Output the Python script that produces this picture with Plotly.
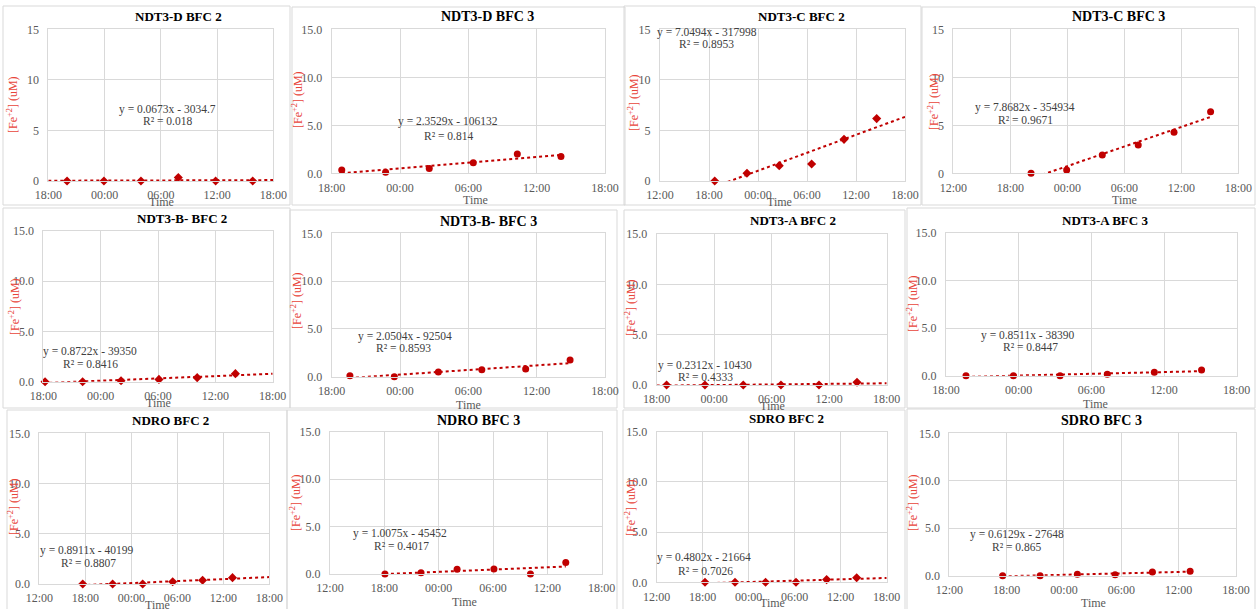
import numpy as np
import pandas as pd
import plotly.graph_objects as go

W, H = 1257, 609

# ---------------- data ----------------
titles = ["NDT3-D BFC 2", "NDT3-D BFC 3", "NDT3-C BFC 2", "NDT3-C BFC 3",
          "NDT3-B- BFC 2", "NDT3-B- BFC 3", "NDT3-A BFC 2", "NDT3-A BFC 3",
          "NDRO BFC 2", "NDRO BFC 3", "SDRO BFC 2", "SDRO BFC 3"]

eq_labels = ["y = 0.0673x - 3034.7", "y = 2.3529x - 106132", "y = 7.0494x - 317998", "y = 7.8682x - 354934",
             "y = 0.8722x - 39350", "y = 2.0504x - 92504", "y = 0.2312x - 10430", "y = 0.8511x - 38390",
             "y = 0.8911x - 40199", "y = 1.0075x - 45452", "y = 0.4802x - 21664", "y = 0.6129x - 27648"]

r2_labels = ["R² = 0.018", "R² = 0.814", "R² = 0.8953", "R² = 0.9671",
             "R² = 0.8416", "R² = 0.8593", "R² = 0.4333", "R² = 0.8447",
             "R² = 0.8807", "R² = 0.4017", "R² = 0.7026", "R² = 0.865"]

ndt3d_bfc2_time = ["2023-07-03 20:00", "2023-07-03 23:56", "2023-07-04 03:53", "2023-07-04 07:52", "2023-07-04 11:51", "2023-07-04 15:48"]
ndt3d_bfc2_fe = [0.0, 0.0, 0.0, 0.35, 0.0, 0.0]

ndt3d_bfc3_time = ["2023-07-03 18:53", "2023-07-03 22:44", "2023-07-04 02:34", "2023-07-04 06:26", "2023-07-04 10:18", "2023-07-04 14:08"]
ndt3d_bfc3_fe = [0.35, 0.1, 0.49, 1.1, 2.0, 1.74]

ndt3c_bfc2_time = ["2023-07-03 18:42", "2023-07-03 22:39", "2023-07-04 02:36", "2023-07-04 06:34", "2023-07-04 10:32", "2023-07-04 14:32"]
ndt3c_bfc2_fe = [0.0, 0.76, 1.52, 1.68, 4.12, 6.17]

ndt3c_bfc3_time = ["2023-07-03 20:11", "2023-07-03 23:56", "2023-07-04 03:41", "2023-07-04 07:28", "2023-07-04 11:14", "2023-07-04 15:05"]
ndt3c_bfc3_fe = [0.0, 0.35, 1.91, 2.95, 4.27, 6.42]

ndt3b_bfc2_time = ["2023-07-03 18:11", "2023-07-03 22:07", "2023-07-04 02:08", "2023-07-04 06:06", "2023-07-04 10:06", "2023-07-04 14:06"]
ndt3b_bfc2_fe = [0.0, 0.0, 0.1, 0.23, 0.4, 0.8]

ndt3b_bfc3_time = ["2023-07-03 19:36", "2023-07-03 23:30", "2023-07-04 03:22", "2023-07-04 07:11", "2023-07-04 11:02", "2023-07-04 14:56"]
ndt3b_bfc3_fe = [0.1, 0.0, 0.49, 0.73, 0.8, 1.74]

ndt3a_bfc2_time = ["2023-07-03 19:02", "2023-07-03 23:02", "2023-07-04 03:02", "2023-07-04 06:58", "2023-07-04 10:56", "2023-07-04 14:54"]
ndt3a_bfc2_fe = [0.0, 0.0, 0.0, 0.0, 0.0, 0.27]

ndt3a_bfc3_time = ["2023-07-03 19:39", "2023-07-03 23:34", "2023-07-04 03:25", "2023-07-04 07:19", "2023-07-04 11:12", "2023-07-04 15:06"]
ndt3a_bfc3_fe = [0.0, 0.0, 0.0, 0.14, 0.35, 0.59]

ndro_bfc2_time = ["2023-07-03 17:40", "2023-07-03 21:34", "2023-07-04 01:29", "2023-07-04 05:24", "2023-07-04 09:18", "2023-07-04 13:12"]
ndro_bfc2_fe = [0.0, 0.0, 0.0, 0.22, 0.38, 0.63]

ndro_bfc3_time = ["2023-07-03 18:04", "2023-07-03 22:03", "2023-07-04 02:02", "2023-07-04 06:06", "2023-07-04 10:08", "2023-07-04 14:02"]
ndro_bfc3_fe = [0.0, 0.14, 0.49, 0.53, 0.0, 1.2]

sdro_bfc2_time = ["2023-07-03 18:18", "2023-07-03 22:13", "2023-07-04 02:12", "2023-07-04 06:10", "2023-07-04 10:10", "2023-07-04 14:05"]
sdro_bfc2_fe = [0.0, 0.0, 0.0, 0.0, 0.27, 0.46]

sdro_bfc3_time = ["2023-07-03 17:35", "2023-07-03 21:30", "2023-07-04 01:24", "2023-07-04 05:21", "2023-07-04 09:15", "2023-07-04 13:12"]
sdro_bfc3_fe = [0.0, 0.0, 0.14, 0.1, 0.39, 0.46]

series_times = [ndt3d_bfc2_time, ndt3d_bfc3_time, ndt3c_bfc2_time, ndt3c_bfc3_time,
                ndt3b_bfc2_time, ndt3b_bfc3_time, ndt3a_bfc2_time, ndt3a_bfc3_time,
                ndro_bfc2_time, ndro_bfc3_time, sdro_bfc2_time, sdro_bfc3_time]
series_fe = [ndt3d_bfc2_fe, ndt3d_bfc3_fe, ndt3c_bfc2_fe, ndt3c_bfc3_fe,
             ndt3b_bfc2_fe, ndt3b_bfc3_fe, ndt3a_bfc2_fe, ndt3a_bfc3_fe,
             ndro_bfc2_fe, ndro_bfc3_fe, sdro_bfc2_fe, sdro_bfc3_fe]

x_ticks_start = ["18:00", "18:00", "12:00", "12:00",
                 "18:00", "18:00", "18:00", "18:00",
                 "12:00", "12:00", "12:00", "12:00"]
y_tick_formats = [".0f", ".1f", ".0f", ".0f", ".1f", ".1f", ".1f", ".1f", ".1f", ".1f", ".1f", ".1f"]

DAY0, DAY1 = "2023-07-03", "2023-07-04"

# ---------------- layout geometry (pixels) ----------------
geo = [
    dict(plot=(48.3, 273.3, 29.3, 181), box=(3, 290, 6, 205), title=(179, 17, 13), eq=(167, 109), r2=(167, 121), yt=(12, 105), xt=(161, 202)),
    dict(plot=(331.7, 605, 29.3, 173.3), box=(292, 625, 7, 205), title=(487, 17, 14), eq=(448, 122), r2=(448, 136), yt=(297, 100), xt=(475, 200)),
    dict(plot=(660, 905, 29.3, 181), box=(624, 921, 6, 205), title=(801.7, 17, 13), eq=(706.7, 32), r2=(706, 44), yt=(633, 103), xt=(779, 202)),
    dict(plot=(953.3, 1238.3, 29.3, 173.3), box=(922, 1255, 7, 205), title=(1118, 17, 14), eq=(1025, 107), r2=(1025, 120), yt=(933, 102), xt=(1124, 200)),
    dict(plot=(43.3, 272.7, 230.7, 381.7), box=(3, 290, 208, 408), title=(181.7, 218.3, 13), eq=(90, 351.7), r2=(90, 364), yt=(14, 307), xt=(158, 403)),
    dict(plot=(331.7, 605, 233.3, 376.7), box=(290, 617, 210, 408), title=(488.3, 221.7, 14), eq=(405, 336), r2=(403, 348.3), yt=(297, 301), xt=(468, 405)),
    dict(plot=(656.7, 886.7, 234, 385), box=(624, 905, 210, 408), title=(793.3, 220.7, 13), eq=(705, 365), r2=(705, 377.3), yt=(630, 308), xt=(772, 406)),
    dict(plot=(946, 1236.7, 232.7, 375.7), box=(907, 1255, 208, 408), title=(1105, 220.7, 13), eq=(1028, 335), r2=(1030, 346.7), yt=(912, 304), xt=(1095, 404)),
    dict(plot=(39.3, 269.3, 433.3, 584), box=(7, 287, 410, 612), title=(170.7, 420.7, 13), eq=(86.7, 550.7), r2=(88, 563.3), yt=(13, 507), xt=(157, 605)),
    dict(plot=(330, 601.7, 431.7, 574), box=(287, 617, 410, 612), title=(478.3, 420, 14), eq=(400, 533.3), r2=(401.7, 545.7), yt=(295, 503), xt=(464, 602)),
    dict(plot=(656.7, 886.7, 431.7, 582.3), box=(623, 905, 410, 612), title=(786.7, 418.3, 13), eq=(704, 557.7), r2=(705, 570.7), yt=(630, 508), xt=(772, 603)),
    dict(plot=(949.3, 1236, 433.3, 575.7), box=(907, 1255, 409, 612), title=(1101.7, 420.7, 14), eq=(1016.7, 534.3), r2=(1016.7, 546.7), yt=(912, 503), xt=(1093, 603)),
]

SERIF = "Liberation Serif, Times New Roman, serif"
RED = "#c00000"
YT_RED = "#e8443a"
GRID = "#d9d9d9"
TICK_COL = "#595959"


def px(x):
    return x / W


def py(y):
    return 1 - y / H


fig = go.Figure()
layout = dict(width=W, height=H, autosize=False, margin=dict(l=0, r=0, t=0, b=0, pad=0, autoexpand=False),
              paper_bgcolor="white", plot_bgcolor="white", showlegend=False,
              font=dict(family=SERIF, color=TICK_COL))
shapes = []
annotations = []

for i in range(12):
    k = i + 1
    g = geo[i]
    x0, x1, yt, yb = g["plot"]
    xs = "x" if k == 1 else f"x{k}"
    ys = "y" if k == 1 else f"y{k}"
    xa = "xaxis" if k == 1 else f"xaxis{k}"
    ya = "yaxis" if k == 1 else f"yaxis{k}"

    rng_start = pd.Timestamp(f"{DAY0} {x_ticks_start[i]}")
    rng_end = pd.Timestamp(f"{DAY1} 18:00")

    t = pd.to_datetime(series_times[i])
    v = np.array(series_fe[i], dtype=float)
    hrs = (t - rng_start).total_seconds().values / 3600.0
    slope, icpt = np.polyfit(hrs, v, 1)
    if i % 2 == 0:
        h_ends = np.array([0.0, (rng_end - rng_start).total_seconds() / 3600.0])
    else:
        h_ends = np.array([hrs[0], hrs[-1]])
    t_ends = [rng_start + pd.Timedelta(hours=float(h)) for h in h_ends]
    v_ends = slope * h_ends + icpt

    fig.add_trace(go.Scatter(x=t_ends, y=v_ends, mode="lines", xaxis=xs, yaxis=ys,
                             line=dict(color=RED, width=2, dash="dot"), hoverinfo="skip"))
    fig.add_trace(go.Scatter(x=t, y=v, mode="markers", xaxis=xs, yaxis=ys, cliponaxis=False,
                             marker=dict(color=RED, size=7,
                                         symbol="diamond" if i % 2 == 0 else "circle")))

    layout[xa] = dict(domain=[px(x0), px(x1)], anchor=ys, type="date", automargin=False,
                      range=[rng_start, rng_end], tick0=f"{DAY0} 00:00", dtick=6 * 3600 * 1000,
                      tickformat="%H:%M", showgrid=True, gridcolor=GRID, gridwidth=1,
                      showline=True, linecolor=GRID, mirror=True, zeroline=False,
                      ticks="outside", ticklen=3, tickcolor="rgba(0,0,0,0)",
                      tickfont=dict(family=SERIF, size=12, color=TICK_COL), fixedrange=True)
    layout[ya] = dict(domain=[py(yb), py(yt)], anchor=xs, range=[0, 15], dtick=5, automargin=False,
                      tickformat=y_tick_formats[i], showgrid=True, gridcolor=GRID, gridwidth=1,
                      showline=True, linecolor=GRID, mirror=True, zeroline=False,
                      ticks="outside", ticklen=6, tickcolor="rgba(0,0,0,0)",
                      tickfont=dict(family=SERIF, size=12, color=TICK_COL), fixedrange=True)

    bx0, bx1, by0, by1 = g["box"]
    shapes.append(dict(type="rect", xref="paper", yref="paper", x0=px(bx0), x1=px(bx1),
                       y0=py(by1), y1=py(by0), line=dict(color=GRID, width=1), layer="below"))

    tx, ty, ts = g["title"]
    annotations.append(dict(text=f"<b>{titles[i]}</b>", x=px(tx), y=py(ty), xref="paper", yref="paper",
                            showarrow=False, xanchor="center", yanchor="middle",
                            font=dict(family=SERIF, size=ts, color="#000000")))
    ex, ey = g["eq"]
    annotations.append(dict(text=eq_labels[i], x=px(ex), y=py(ey), xref="paper", yref="paper",
                            showarrow=False, xanchor="center", yanchor="middle",
                            font=dict(family=SERIF, size=11.5, color="#404040")))
    rx, ry = g["r2"]
    annotations.append(dict(text=r2_labels[i], x=px(rx), y=py(ry), xref="paper", yref="paper",
                            showarrow=False, xanchor="center", yanchor="middle",
                            font=dict(family=SERIF, size=11.5, color="#404040")))
    yx, yy = g["yt"]
    annotations.append(dict(text="[Fe<sup>+2</sup>] (uM)", x=px(yx), y=py(yy), xref="paper", yref="paper",
                            showarrow=False, xanchor="center", yanchor="middle", textangle=-90,
                            font=dict(family=SERIF, size=12, color=YT_RED)))
    xx, xy = g["xt"]
    annotations.append(dict(text="Time", x=px(xx), y=py(xy), xref="paper", yref="paper",
                            showarrow=False, xanchor="center", yanchor="middle",
                            font=dict(family=SERIF, size=12, color=TICK_COL)))

layout["shapes"] = shapes
layout["annotations"] = annotations
fig.update_layout(**layout)
fig.write_html("out.html", config={"displayModeBar": False},
               post_script="document.body.style.margin='0';document.body.style.overflow='hidden';")
